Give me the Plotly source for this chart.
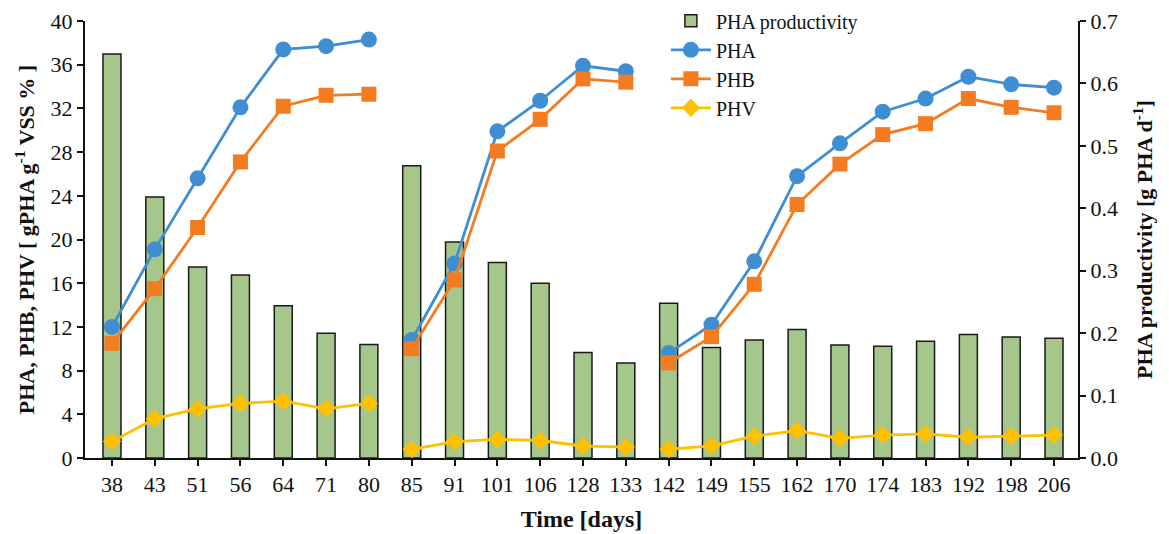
import plotly.graph_objects as go

days = ["38", "43", "51", "56", "64", "71", "80",
        "85", "91", "101", "106", "128", "133",
        "142", "149", "155", "162", "170", "174", "183", "192", "198", "206"]
group_sizes = [7, 6, 10]

productivity = [0.647, 0.418, 0.306, 0.293, 0.244, 0.200, 0.182,
                0.468, 0.346, 0.313, 0.280, 0.169, 0.152,
                0.248, 0.177, 0.189, 0.206, 0.181, 0.179, 0.187, 0.198, 0.194, 0.192]
pha = [12.0, 19.1, 25.6, 32.1, 37.4, 37.7, 38.3,
       10.8, 17.8, 29.9, 32.7, 35.9, 35.4,
       9.6, 12.2, 18.0, 25.8, 28.8, 31.7, 32.9, 34.9, 34.2, 33.9]
phb = [10.5, 15.5, 21.1, 27.1, 32.2, 33.2, 33.3,
       10.0, 16.3, 28.1, 31.0, 34.7, 34.4,
       8.7, 11.1, 15.9, 23.2, 26.9, 29.6, 30.6, 32.9, 32.1, 31.6]
phv = [1.5, 3.6, 4.5, 5.0, 5.2, 4.5, 5.0,
       0.8, 1.5, 1.7, 1.6, 1.1, 1.0,
       0.8, 1.1, 2.0, 2.5, 1.8, 2.1, 2.2, 1.9, 2.0, 2.1]

FONT = "Liberation Serif"
fig = go.Figure()

# bars on primary axis (right side) so the lines on the overlay axis draw on top
fig.add_trace(go.Bar(
    x=days, y=productivity, name="PHA productivity", yaxis="y",
    marker=dict(color="#A5C78C", line=dict(color="#1a1a1a", width=1.5)),
))

series = [
    ("PHA", pha, "#3F8ED2", "circle", 16),
    ("PHB", phb, "#F47C20", "square", 15),
    ("PHV", phv, "#FFC000", "diamond", 14),
]
for name, vals, color, sym, size in series:
    start = 0
    for gi, n in enumerate(group_sizes):
        fig.add_trace(go.Scatter(
            x=days[start:start + n], y=vals[start:start + n], yaxis="y2",
            mode="lines+markers", name=name, legendgroup=name,
            showlegend=(gi == 0),
            line=dict(color=color, width=2.8),
            marker=dict(symbol=sym, size=size, color=color),
        ))
        start += n

fig.update_layout(
    width=1169, height=534,
    margin=dict(l=85, r=91, t=21, b=76, autoexpand=False),
    plot_bgcolor="white", paper_bgcolor="white",
    font=dict(family=FONT, size=22, color="#111"),
    bargap=0.58,
    showlegend=True,
    legend=dict(x=0.585, y=1.045, xanchor="left", yanchor="top",
                bgcolor="rgba(0,0,0,0)", font=dict(size=20, family=FONT, color="#111"),
                tracegroupgap=0, itemwidth=40, traceorder="normal"),
    xaxis=dict(
        type="category", range=[-0.63, 22.56],
        showline=True, linecolor="#111", linewidth=2,
        ticks="outside", ticklen=6, tickwidth=2, tickcolor="#111",
        tickfont=dict(size=22, family=FONT),
        title=dict(text="<b>Time [days]</b>", font=dict(size=24, family=FONT), standoff=14),
        showgrid=False, zeroline=False,
    ),
    yaxis=dict(
        range=[0, 0.7], dtick=0.1, tickformat=".1f",
        side="right",
        showline=True, linecolor="#111", linewidth=2,
        ticks="outside", ticklen=6, tickwidth=2, tickcolor="#111",
        tickfont=dict(size=22, family=FONT),
        title=dict(text="<b>PHA productivity [g PHA d<sup>-1</sup>]</b>",
                   font=dict(size=22, family=FONT), standoff=20),
        showgrid=False, zeroline=False,
    ),
    yaxis2=dict(
        range=[0, 40], dtick=4,
        overlaying="y", side="left",
        showline=True, linecolor="#111", linewidth=2,
        ticks="outside", ticklen=6, tickwidth=2, tickcolor="#111",
        tickfont=dict(size=22, family=FONT),
        title=dict(text="<b>PHA, PHB, PHV [ gPHA g<sup>-1</sup> VSS % ]</b>",
                   font=dict(size=22, family=FONT), standoff=10),
        showgrid=False, zeroline=False,
    ),
)

fig.write_html("out.html")
